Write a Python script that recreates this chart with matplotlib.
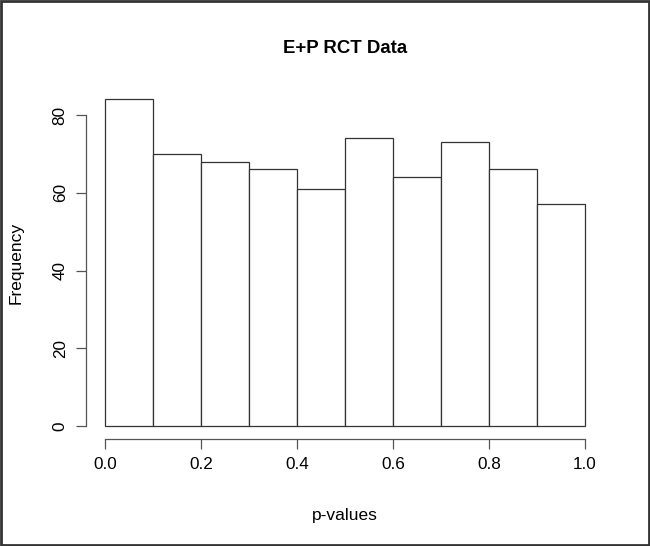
import matplotlib.pyplot as plt
import numpy as np
from matplotlib.patches import Rectangle

plt.rcParams['font.family'] = ['Liberation Sans', 'DejaVu Sans']

# histogram bins and counts
bin_edges = [0.0, 0.1, 0.2, 0.3, 0.4, 0.5, 0.6, 0.7, 0.8, 0.9, 1.0]
counts = [84, 70, 68, 66, 61, 74, 64, 73, 66, 57]
x_ticks = [0.0, 0.2, 0.4, 0.6, 0.8, 1.0]
y_ticks = [0, 20, 40, 60, 80]

fig = plt.figure(figsize=(6.5, 5.46), dpi=100)
ax = fig.add_axes([0.132, 0.1958, 0.7975, 0.646])

edges = np.array(bin_edges)
ax.hist(edges[:-1], bins=edges, weights=counts, facecolor='white',
        edgecolor='#333333', linewidth=0.9)

ax.set_xlim(-0.04, 1.04)
ax.set_ylim(-3.36, 87.36)

for s in ['top', 'right']:
    ax.spines[s].set_visible(False)
ax.spines['left'].set_bounds(0, 80)
ax.spines['bottom'].set_bounds(0, 1)
for s in ['left', 'bottom']:
    ax.spines[s].set_color('#555555')
    ax.spines[s].set_linewidth(0.9)

ax.set_xticks(x_ticks)
ax.set_xticklabels(['%.1f' % v for v in x_ticks])
ax.set_yticks(y_ticks)
ax.set_yticklabels([str(v) for v in y_ticks], rotation=90, va='center')
ax.tick_params(axis='both', direction='out', length=7, width=0.9,
               color='#555555', labelsize=12.3, pad=6)

ax.set_title('E+P RCT Data', fontsize=13.4, fontweight='bold', pad=24)
ax.set_xlabel('p-values', fontsize=12.5, labelpad=26)
ax.set_ylabel('Frequency', fontsize=12.5, labelpad=21)

# dark frame around the whole picture
fig.patches.append(Rectangle((0.0015, 0.0015), 0.997, 0.997, transform=fig.transFigure,
                             fill=False, edgecolor='#333333', linewidth=2))

fig.savefig('out.png', dpi=100)
